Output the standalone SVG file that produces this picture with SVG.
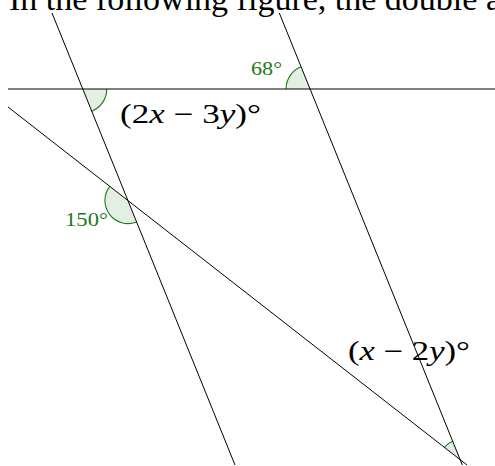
<svg xmlns="http://www.w3.org/2000/svg" width="495" height="466" viewBox="0 0 495 466">
<style>
.ln{stroke:#000;stroke-width:1;fill:none}
.sec{fill:#e4efe4;stroke:none}
.arc{fill:none;stroke:#1a7a1a;stroke-width:1.1}
.lbl{font-family:"Liberation Serif","DejaVu Serif",serif;fill:#000}
.glbl{font-family:"Liberation Serif","DejaVu Serif",serif;fill:#1a7a1a;font-size:18px}
.it{font-style:italic}
</style>
<rect width="495" height="466" fill="#fff"/>
<text class="lbl" x="9" y="10" font-size="33" textLength="492" lengthAdjust="spacingAndGlyphs">In the following figure, the double a</text>
<g id="angles">
<path class="sec" d="M82.8,89 L106.8,89 A24,24 0 0 1 91.8,111.2 Z"/>
<path class="arc" d="M106.8,89 A24,24 0 0 1 91.8,111.2"/>
<path class="sec" d="M310,89 L286,89 A24,24 0 0 1 301,66.75 Z"/>
<path class="arc" d="M286,89 A24,24 0 0 1 301,66.75"/>
<path class="sec" d="M127.9,200.55 L136.5,221.9 A23,23 0 0 1 109.8,186.4 Z"/>
<path class="arc" d="M136.5,221.9 A23,23 0 0 1 109.8,186.4"/>
<path class="sec" d="M460.1,459.7 L444.3,447.4 A20,20 0 0 1 452.6,441.2 Z"/>
<path class="arc" d="M444.3,447.4 A20,20 0 0 1 452.6,441.2"/>
</g>
<g id="lines">
<line class="ln" x1="8" y1="89" x2="495" y2="89"/>
<line class="ln" x1="52" y1="13" x2="235" y2="465"/>
<line class="ln" x1="279.3" y1="13" x2="462.3" y2="465"/>
<line class="ln" x1="8" y1="107" x2="467" y2="465"/>
</g>
<g id="labels">
<text class="glbl" x="251" y="75" textLength="31" lengthAdjust="spacingAndGlyphs">68°</text>
<text class="glbl" x="65" y="226" textLength="43" lengthAdjust="spacingAndGlyphs">150°</text>
<text class="lbl" x="120" y="123" font-size="27" textLength="141" lengthAdjust="spacingAndGlyphs">(2<tspan class="it">x</tspan> − 3<tspan class="it">y</tspan>)°</text>
<text class="lbl" x="348" y="360" font-size="27" textLength="122" lengthAdjust="spacingAndGlyphs">(<tspan class="it">x</tspan> − 2<tspan class="it">y</tspan>)°</text>
</g>
</svg>
